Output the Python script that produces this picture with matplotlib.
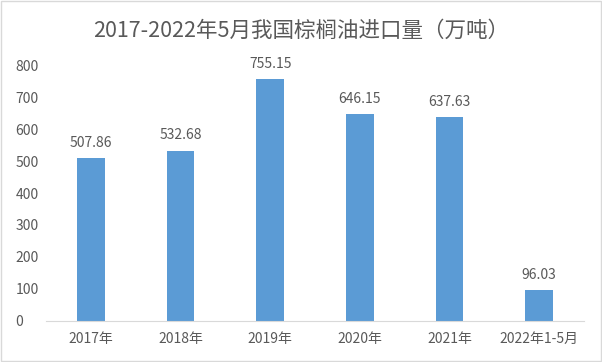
import matplotlib
matplotlib.use("Agg")
import matplotlib.pyplot as plt
from matplotlib.patches import Rectangle

plt.rcParams['font.family'] = ['Noto Sans CJK SC', 'DejaVu Sans']

# data
categories = ['2017年', '2018年', '2019年', '2020年', '2021年', '2022年1-5月']
imports = [507.86, 532.68, 755.15, 646.15, 637.63, 96.03]
yticks = [0, 100, 200, 300, 400, 500, 600, 700, 800]

text_color = '#595959'
bar_color = '#5B9BD5'

fig = plt.figure(figsize=(6.02, 3.62), dpi=100)
ax = fig.add_axes([0.0764, 0.1133, 0.8936, 0.7071])

x = range(len(categories))
ax.bar(x, imports, width=0.31, color=bar_color)
for xi, v in zip(x, imports):
    ax.text(xi, v + 26, f'{v:.2f}', ha='center', va='bottom',
            fontsize=10, color=text_color)

ax.set_xlim(-0.5, len(categories) - 0.5)
ax.set_ylim(0, 800)
ax.set_yticks(yticks)
ax.set_xticks(list(x))
ax.set_xticklabels(categories)
ax.tick_params(axis='both', length=0, labelsize=10, colors=text_color)
ax.tick_params(axis='x', pad=8)
ax.tick_params(axis='y', pad=22)
for lab in ax.get_yticklabels():
    lab.set_horizontalalignment('left')
for s in ['top', 'right', 'left']:
    ax.spines[s].set_visible(False)
ax.spines['bottom'].set_color('#D9D9D9')

fig.text(0.5, 0.915, '2017-2022年5月我国棕榈油进口量（万吨）', ha='center', va='center',
         fontsize=15.5, color=text_color)

fig.patches.append(Rectangle((0.002, 0.003), 0.996, 0.994, transform=fig.transFigure,
                             fill=False, edgecolor='#D9D9D9', linewidth=1))

fig.savefig('out.png', dpi=100)
